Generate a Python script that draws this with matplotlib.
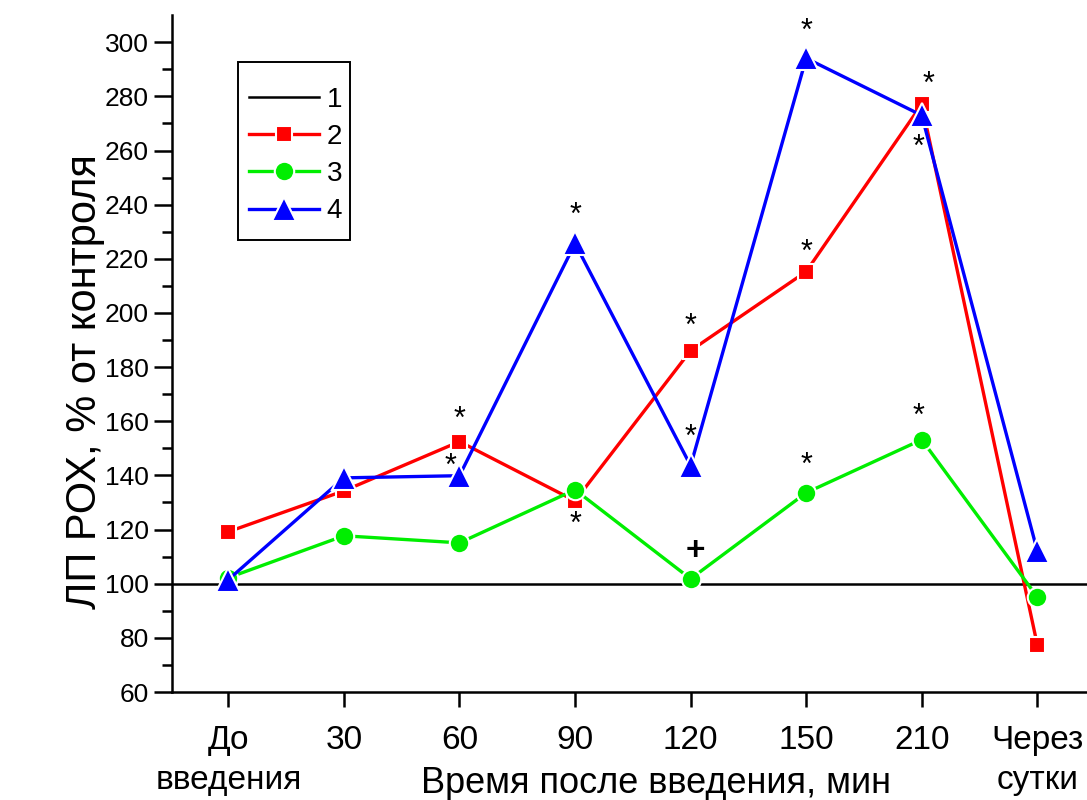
import numpy as np
import matplotlib.pyplot as plt
from matplotlib.patches import Rectangle

plt.rcParams['font.family'] = ['Liberation Sans', 'DejaVu Sans']

# данные, % от контроля
labels = ['До\nвведения', '30', '60', '90', '120', '150', '210', 'Через\nсутки']
control = [100, 100, 100, 100, 100, 100, 100, 100]
s2 = [119.2, 134.3, 152.5, 130.6, 186.1, 215.3, 277.1, 77.4]
s3 = [102.2, 117.7, 115.1, 134.7, 101.8, 133.6, 153.2, 95.1]
s4 = [101.5, 139.1, 139.9, 225.7, 143.6, 294.1, 273.0, 112.1]

# значки достоверности: (позиция, значение, символ)
marks_x = [2.0, 1.92, 3.0, 3.0, 4.0, 4.0, 4.04, 5.0, 5.0, 5.0, 6.06, 5.97, 5.97]
marks_y = [160.5, 143.2, 236.0, 121.7, 194.9, 153.9, 111.8, 303.8, 222.3, 143.5, 284.4, 261.1, 161.7]
marks_s = ['*', '*', '*', '*', '*', '*', '+', '*', '*', '*', '*', '*', '*']

x = np.arange(len(labels))

fig = plt.figure(figsize=(10.87, 8.0), dpi=100)
ax = fig.add_axes([0.158, 0.135, 0.842, 0.846])

ax.plot([-1, 9], [100, 100], color='black', lw=1.8, label='1')
ax.plot(x, s2, '-s', color='#ff0000', lw=2.4, ms=11, mec='white', mew=1.5, label='2')
ax.plot(x, s3, '-o', color='#00ee00', lw=2.4, ms=14, mec='white', mew=1.5, label='3')
ax.plot(x, s4, '-^', color='#0000ff', lw=2.4, ms=17, mec='white', mew=1.5, label='4')

for mx, my, ms in zip(marks_x, marks_y, marks_s):
    if ms == '+':
        ax.text(mx, my, ms, ha='center', va='center', fontsize=24, fontweight='bold')
    else:
        ax.text(mx, my, ms, ha='center', va='center', fontsize=22)

ax.set_xlim(-0.49, 7.43)
ax.set_ylim(60, 310)
ax.set_yticks(np.arange(60, 301, 20))
ax.set_yticks(np.arange(70, 310, 20), minor=True)
ax.set_xticks(x)
ax.set_xticklabels(labels, fontsize=24, linespacing=1.35)
ax.tick_params(axis='y', labelsize=19, width=1.8, length=13)
ax.tick_params(axis='y', which='minor', width=1.8, length=7)
ax.tick_params(axis='x', width=1.8, length=11, pad=13)

for side in ['top', 'right']:
    ax.spines[side].set_visible(False)
for side in ['left', 'bottom']:
    ax.spines[side].set_linewidth(1.8)

ax.set_xlabel('Время после введения, мин', fontsize=26)
ax.xaxis.set_label_coords(0.529, -0.135)
ax.xaxis.label.set_va('center')
ax.set_ylabel('ЛП РОХ, % от контроля', fontsize=30)
ax.yaxis.set_label_coords(-0.095, 0.458)
ax.yaxis.label.set_va('center')

# рамка легенды отдельно, как в Origin
ax.add_patch(Rectangle((0.072, 0.668), 0.1225, 0.263, transform=ax.transAxes,
                       facecolor='white', edgecolor='black', lw=1.4, zorder=4))
leg = ax.legend(loc='upper left', bbox_to_anchor=(0.084, 0.894), fontsize=20,
                frameon=False, handlelength=2.55, handletextpad=0.25,
                borderpad=0, labelspacing=0.4, borderaxespad=0)
leg.set_zorder(5)

plt.savefig('out.png', dpi=100)
